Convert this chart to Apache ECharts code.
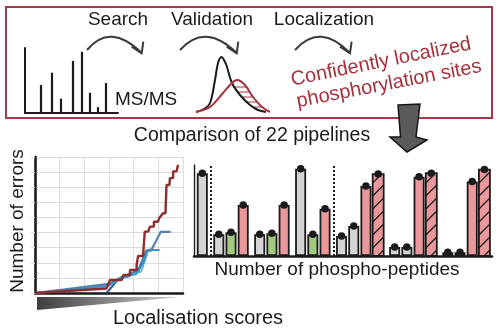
<!DOCTYPE html>
<html>
<head>
<meta charset="utf-8">
<script src="https://cdn.jsdelivr.net/npm/echarts@6/dist/echarts.min.js"></script>
<style>
  html, body { margin: 0; padding: 0; background: #fff; }
  #chart { width: 500px; height: 330px; }
</style>
</head>
<body>
<div id="chart"></div>
<script>
// ---- MS/MS spectrum (relative m/z, relative intensity %) ----
const peakMz = [16, 27, 36, 48, 57, 65, 73, 81];
const peakIntensity = [43, 62, 22, 80, 94, 31, 9, 46];

// ---- Score distributions: correct (black) and incorrect (red) ----
const correctDist = [[6, 0], [14, 3], [20, 9], [25, 32], [28, 49], [31.5, 55], [35, 50], [37, 45], [42, 29], [50, 17], [60, 7], [68, 2], [76, 0]];
const incorrectDist = [[6, 0], [20, 5], [33, 19], [42, 29], [47, 32], [55, 27], [63, 15], [72, 5], [80, 0]];
// hatch rungs between the two tails: [xStart, xEnd, y]
const hatchRungs = [[43, 57, 25], [47.5, 60, 20], [52, 63.5, 15], [56, 67, 10], [62, 71.5, 5]];

// ---- Cumulative errors against localisation score ----
const errorsRed = [[0, 0], [2.9, 0.3], [3.04, 0.86], [3.51, 0.86], [3.58, 1.19], [3.85, 1.19], [3.85, 1.52], [4.12, 1.52], [4.12, 1.85], [4.18, 2.45], [4.38, 2.45], [4.45, 4.06], [4.59, 4.06], [4.66, 4.39], [4.82, 4.39], [4.82, 4.72], [4.99, 4.72], [5.03, 4.94], [5.19, 5.28], [5.29, 5.28], [5.33, 7.15], [5.45, 7.15], [5.47, 7.6], [5.6, 7.6], [5.6, 8.05], [5.74, 8.05], [5.8, 8.48]];
const errorsSteel = [[0, 0], [3.0, 0.6], [3.45, 1.0], [3.9, 1.3], [4.2, 1.5], [4.5, 2.8], [4.7, 2.8], [5.1, 4.05], [5.5, 4.05]];
const errorsCyan = [[0, 0], [3.0, 0.5], [3.5, 1.0], [4.1, 1.25], [4.4, 2.0], [4.55, 2.85], [5.05, 2.85]];
const errorsSky = [[0, 0], [2.9, 0.4], [3.3, 0.8], [4.0, 1.3], [4.3, 1.4], [4.6, 2.85], [4.95, 2.85]];
const errorsNavy = [[2.9, 0], [3.4, 0.95], [3.8, 1.1], [4.2, 1.6], [4.5, 2.7], [4.7, 2.9]];

// ---- Phospho-peptide counts per pipeline group ----
const barKinds = [
  ['gray'],
  ['gray', 'green', 'red'],
  ['gray', 'green', 'red'],
  ['gray', 'green', 'red'],
  ['gray', 'gray', 'red', 'hatch'],
  ['gray', 'gray', 'red', 'hatch'],
  ['gray', 'gray', 'red', 'hatch']
];
const barValues = [
  [91],
  [24, 26, 56],
  [24, 25, 56],
  [96, 24, 52],
  [22, 33, 77, 90],
  [10, 10, 87, 91],
  [4, 4, 82, 95]
];
// dotted separators sit after these group indices
const separatorsAfter = [0, 3];

const FONT = 'Liberation Sans, Arial, sans-serif';
const INK = '#1b1b1b';
const CRIMSON = '#a6323e';
const BAR_W = 11;

const kindColor = { gray: '#d4d4d4', green: '#a3c87f', red: '#eb989c', hatch: '#eb989c' };

// lay bars out along a value axis: one unit per bar, small gap between groups
const groupGap = 0.35;
const plainBars = [];
const hatchBars = [];
const allTops = [];
const groupSpan = [];
let k = 0;
barValues.forEach((g, gi) => {
  const first = k + gi * groupGap;
  g.forEach((v, bi) => {
    const kind = barKinds[gi][bi];
    const x = k + gi * groupGap;
    allTops.push([x, v]);
    if (kind === 'hatch') {
      hatchBars.push([x, v]);
    } else {
      plainBars.push({ value: [x, v], itemStyle: { color: kindColor[kind], borderColor: INK, borderWidth: 1.8 } });
    }
    k++;
  });
  groupSpan.push([first, k - 1 + gi * groupGap]);
});
const separatorX = separatorsAfter.map(gi => (groupSpan[gi][1] + groupSpan[gi + 1][0]) / 2);
const lastBarX = allTops[allTops.length - 1][0];

const hatchSegments = hatchRungs.map(r => [[r[0], r[2]], [r[1], r[2]]]);

// hatched bar: filled rect with "/" strokes clipped to the bar
function renderHatchBar(params, api) {
  const x = api.value(0), v = api.value(1);
  const top = api.coord([x, v]);
  const base = api.coord([x, 0]);
  const x0 = top[0] - BAR_W / 2, x1 = top[0] + BAR_W / 2;
  const y0 = top[1], y1 = base[1];
  const children = [];
  for (let yb = y1 + 5; yb - BAR_W < y1 && yb > y0; yb -= 13) {
    let ax = x0, ay = yb, bx = x1, by = yb - BAR_W;
    if (ay > y1) { ax += ay - y1; ay = y1; }
    if (by < y0) { bx -= y0 - by; by = y0; }
    if (bx > ax) children.push({ type: 'line', shape: { x1: ax, y1: ay, x2: bx, y2: by }, style: { stroke: INK, lineWidth: 1.2 } });
  }
  return {
    type: 'group',
    children: [
      { type: 'rect', shape: { x: x0, y: y0, width: BAR_W, height: y1 - y0 }, style: { fill: kindColor.hatch, stroke: 'none' } },
      ...children,
      { type: 'rect', shape: { x: x0, y: y0, width: BAR_W, height: y1 - y0 }, style: { fill: 'none', stroke: INK, lineWidth: 1.8 } }
    ]
  };
}

const chart = echarts.init(document.getElementById('chart'), null, { renderer: 'canvas' });

chart.setOption({
  animation: false,
  backgroundColor: '#fff',
  grid: [
    { left: 25, top: 48, width: 93, height: 65 },          // spectrum
    { left: 190, top: 50, width: 90, height: 62 },         // distributions
    { left: 35, top: 157, width: 148, height: 136 },       // errors
    { left: 194, top: 165, width: 298, height: 91 }        // bars
  ],
  xAxis: [
    { gridIndex: 0, type: 'value', min: 0, max: 93, axisLine: { show: true, onZero: false, lineStyle: { color: INK, width: 2 } }, axisTick: { show: false }, axisLabel: { show: false }, splitLine: { show: false } },
    { gridIndex: 1, type: 'value', min: 0, max: 90, show: false },
    { gridIndex: 2, type: 'value', min: 0, max: 6, interval: 1, axisLine: { show: true, onZero: false, lineStyle: { color: INK, width: 2.6 } }, axisTick: { show: false }, axisLabel: { show: false }, splitLine: { show: true, lineStyle: { color: '#dcdcdc', width: 1 } } },
    { gridIndex: 3, type: 'value', min: -0.68, max: lastBarX + 0.62, axisLine: { show: true, onZero: false, lineStyle: { color: INK, width: 2.6 } }, axisTick: { show: false }, axisLabel: { show: false }, splitLine: { show: false } }
  ],
  yAxis: [
    { gridIndex: 0, type: 'value', min: 0, max: 100, axisLine: { show: true, lineStyle: { color: INK, width: 2 } }, axisTick: { show: false }, axisLabel: { show: false }, splitLine: { show: false } },
    { gridIndex: 1, type: 'value', min: 0, max: 62, show: false },
    { gridIndex: 2, type: 'value', min: 0, max: 9, interval: 1, axisLine: { show: true, onZero: false, lineStyle: { color: INK, width: 2.6 } }, axisTick: { show: true, length: 4, lineStyle: { color: '#dcdcdc' } }, axisLabel: { show: false }, splitLine: { show: true, lineStyle: { color: '#dcdcdc', width: 1 } } },
    { gridIndex: 3, type: 'value', min: 0, max: 100, axisLine: { show: true, onZero: false, lineStyle: { color: INK, width: 1.4 } }, axisTick: { show: false }, axisLabel: { show: false }, splitLine: { show: false } }
  ],
  series: [
    // spectrum peaks
    {
      type: 'bar', xAxisIndex: 0, yAxisIndex: 0, barWidth: 2.2,
      itemStyle: { color: INK },
      data: peakMz.map((m, i) => [m, peakIntensity[i]])
    },
    // distributions
    {
      type: 'line', xAxisIndex: 1, yAxisIndex: 1, smooth: 0.35, symbol: 'none',
      lineStyle: { color: INK, width: 2 }, data: correctDist, z: 3
    },
    {
      type: 'line', xAxisIndex: 1, yAxisIndex: 1, smooth: 0.35, symbol: 'none',
      lineStyle: { color: CRIMSON, width: 2 }, data: incorrectDist, z: 3
    },
    ...hatchSegments.map(seg => ({
      type: 'line', xAxisIndex: 1, yAxisIndex: 1, symbol: 'none',
      lineStyle: { color: CRIMSON, width: 1.2 }, data: seg, z: 2
    })),
    // cumulative errors
    { type: 'line', xAxisIndex: 2, yAxisIndex: 2, symbol: 'none', lineStyle: { color: '#2b5e93', width: 2 }, data: errorsNavy, z: 3 },
    { type: 'line', xAxisIndex: 2, yAxisIndex: 2, symbol: 'none', lineStyle: { color: '#6cb8e2', width: 2 }, data: errorsSky, z: 3 },
    { type: 'line', xAxisIndex: 2, yAxisIndex: 2, symbol: 'none', lineStyle: { color: '#2f9ad5', width: 2 }, data: errorsCyan, z: 3 },
    { type: 'line', xAxisIndex: 2, yAxisIndex: 2, symbol: 'none', lineStyle: { color: '#5283ad', width: 2.2 }, data: errorsSteel, z: 3 },
    { type: 'line', xAxisIndex: 2, yAxisIndex: 2, symbol: 'none', lineStyle: { color: '#8c2d2f', width: 2.4 }, data: errorsRed, z: 4 },
    // phospho-peptide bars
    {
      type: 'bar', xAxisIndex: 3, yAxisIndex: 3, barWidth: BAR_W,
      data: plainBars,
      markLine: {
        silent: true, symbol: 'none', label: { show: false },
        lineStyle: { color: INK, type: 'dotted', width: 2 },
        data: separatorX.map(x => ({ xAxis: x }))
      }
    },
    {
      type: 'custom', xAxisIndex: 3, yAxisIndex: 3, renderItem: renderHatchBar,
      data: hatchBars, z: 3
    },
    {
      type: 'scatter', xAxisIndex: 3, yAxisIndex: 3, symbolSize: 7.5,
      itemStyle: { color: INK, opacity: 1 }, z: 5,
      data: allTops
    }
  ],
  graphic: [
    // workflow frame
    { type: 'rect', shape: { x: 6, y: 7, width: 486, height: 111 }, style: { fill: 'none', stroke: '#a53a46', lineWidth: 2 }, z: 1 },
    // step labels
    { type: 'text', x: 118, y: 20, style: { text: 'Search', font: '19px ' + FONT, fill: INK, align: 'center', verticalAlign: 'middle' } },
    { type: 'text', x: 212, y: 20, style: { text: 'Validation', font: '19px ' + FONT, fill: INK, align: 'center', verticalAlign: 'middle' } },
    { type: 'text', x: 324, y: 20, style: { text: 'Localization', font: '19px ' + FONT, fill: INK, align: 'center', verticalAlign: 'middle' } },
    // curved step arrows
    ...[[87, 141.7, 110], [180, 236.7, 205], [295, 350, 320]].map(a => ({
      type: 'group',
      children: [
        { type: 'bezierCurve', shape: { x1: a[0], y1: 50, x2: a[1], y2: 53, cpx1: a[2], cpy1: 22 }, style: { stroke: '#3a3a3a', lineWidth: 2, fill: 'none' } },
        { type: 'polyline', shape: { points: [[a[1] - 10, 46.7], [a[1], 53.3], [a[1] + 1.6, 41.7]] }, style: { stroke: '#3a3a3a', lineWidth: 2, fill: 'none' } }
      ]
    })),
    { type: 'text', x: 115, y: 100, style: { text: 'MS/MS', font: '19px ' + FONT, fill: INK, align: 'left', verticalAlign: 'middle' } },
    // outcome text
    { type: 'text', x: 381, y: 62, rotation: 0.2, style: { text: 'Confidently localized', font: '20px ' + FONT, fill: CRIMSON, align: 'center', verticalAlign: 'middle' } },
    { type: 'text', x: 389, y: 84, rotation: 0.19, style: { text: 'phosphorylation sites', font: '20px ' + FONT, fill: CRIMSON, align: 'center', verticalAlign: 'middle' } },
    // big down arrow
    { type: 'polygon', z: 10, shape: { points: [[398, 105], [420, 104], [416, 137], [427, 140], [407, 152], [390, 137], [400.5, 137]] }, style: { fill: '#5a5a5a', stroke: '#151515', lineWidth: 1.5 } },
    { type: 'text', x: 252, y: 136, style: { text: 'Comparison of 22 pipelines', font: '19.5px ' + FONT, fill: INK, align: 'center', verticalAlign: 'middle' } },
    // axis titles
    { type: 'text', x: 18, y: 221, rotation: Math.PI / 2, style: { text: 'Number of errors', font: '19px ' + FONT, fill: INK, align: 'center', verticalAlign: 'middle' } },
    { type: 'text', x: 113, y: 318, style: { text: 'Localisation scores', font: '20px ' + FONT, fill: INK, align: 'left', verticalAlign: 'middle' } },
    { type: 'text', x: 337, y: 270, style: { text: 'Number of phospho-peptides', font: '19px ' + FONT, fill: INK, align: 'center', verticalAlign: 'middle' } },
    // score wedge under the error plot
    {
      type: 'polygon', shape: { points: [[37, 297], [181, 297], [37, 310]] },
      style: { fill: new echarts.graphic.LinearGradient(0, 0, 1, 0, [{ offset: 0, color: '#3e3e3e' }, { offset: 1, color: '#cfcfcf' }]) }
    }
  ]
});
</script>
</body>
</html>
